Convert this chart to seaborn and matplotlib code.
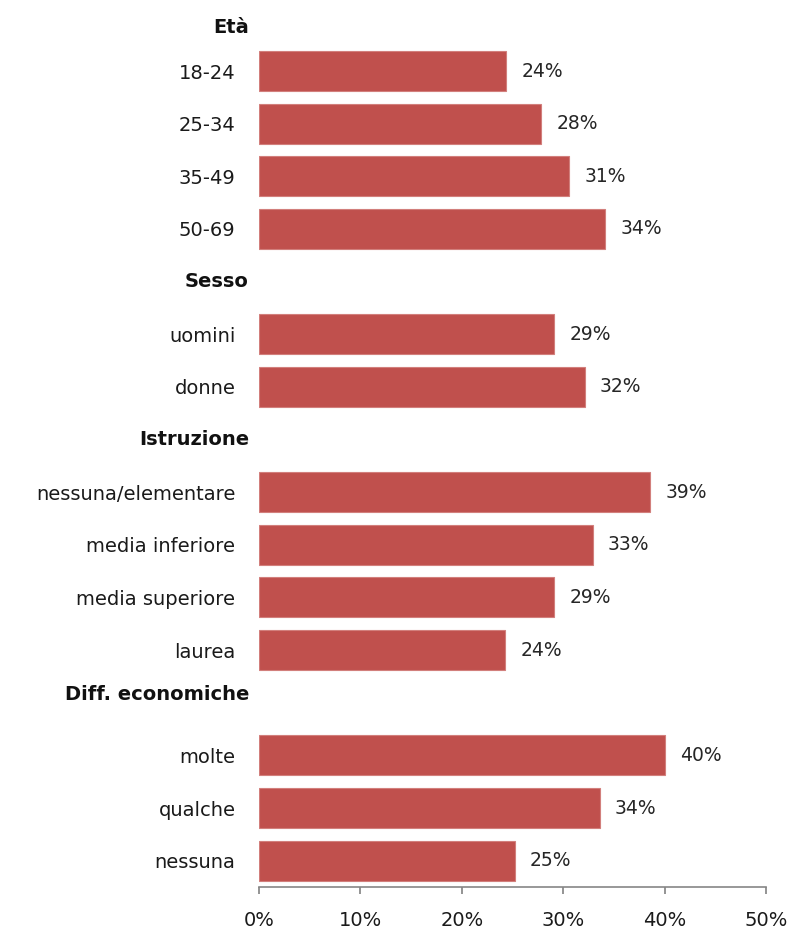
import pandas as pd
import seaborn as sns
import matplotlib.pyplot as plt
from matplotlib.ticker import PercentFormatter

# rows in display order; group headers carry no bar
rows = ["Età", "18-24", "25-34", "35-49", "50-69",
        "Sesso", "uomini", "donne",
        "Istruzione", "nessuna/elementare", "media inferiore", "media superiore", "laurea",
        "Diff. economiche", "molte", "qualche", "nessuna"]
headers = ["Età", "Sesso", "Istruzione", "Diff. economiche"]

items = ["18-24", "25-34", "35-49", "50-69",
         "uomini", "donne",
         "nessuna/elementare", "media inferiore", "media superiore", "laurea",
         "molte", "qualche", "nessuna"]
values = [24.4, 27.8, 30.6, 34.1,
          29.1, 32.1,
          38.6, 32.9, 29.1, 24.3,
          40.0, 33.6, 25.2]
labels = ["24%", "28%", "31%", "34%",
          "29%", "32%",
          "39%", "33%", "29%", "24%",
          "40%", "34%", "25%"]

df = pd.DataFrame({"row": items, "value": values, "label": labels})

sns.set_theme(style="white")
plt.rcParams['font.family'] = ['DejaVu Sans']

fig = plt.figure(figsize=(7.88, 9.34), dpi=100)
ax = fig.add_axes([0.3287, 0.0503, 0.6434, 0.9497])

sns.barplot(data=df, x="value", y="row", order=rows, color="#C0504D",
            width=0.76, saturation=1, edgecolor="#D27F7C", linewidth=0.8, ax=ax)

ax.set_xlim(0, 50)
ax.set_ylim(16.5, -0.35)
ax.set_xticks([0, 10, 20, 30, 40, 50])
ax.xaxis.set_major_formatter(PercentFormatter(decimals=0))
ax.set_xlabel("")
ax.set_ylabel("")

# value labels
for i, (v, lab) in enumerate(zip(df["value"], df["label"])):
    ax.annotate(lab, (v, rows.index(items[i])), xytext=(11, 0),
                textcoords="offset points", va="center", ha="left",
                fontsize=13.5, color="#262626")

# item tick labels; headers drawn separately in bold
ax.set_yticks(range(len(rows)))
ax.set_yticklabels(["" if r in headers else r for r in rows], fontsize=14, color="#1a1a1a")
ax.tick_params(axis="y", length=0, pad=17)
ax.tick_params(axis="x", direction="out", length=5, color="#868686",
               labelsize=14, labelcolor="#1a1a1a", pad=12, bottom=True)
# small vertical nudges so the headers sit like in the source
nudge = {"Età": 0.18, "Sesso": 0.0, "Istruzione": 0.0, "Diff. economiche": -0.15}
for h in headers:
    ax.text(-0.02, rows.index(h) + nudge[h], h, transform=ax.get_yaxis_transform(),
            ha="right", va="center", fontsize=14, fontweight="bold", color="#111111")

for s in ["left", "top", "right"]:
    ax.spines[s].set_visible(False)
ax.spines["bottom"].set_color("#868686")
ax.spines["bottom"].set_linewidth(1.2)

fig.savefig("out.png", dpi=100)
